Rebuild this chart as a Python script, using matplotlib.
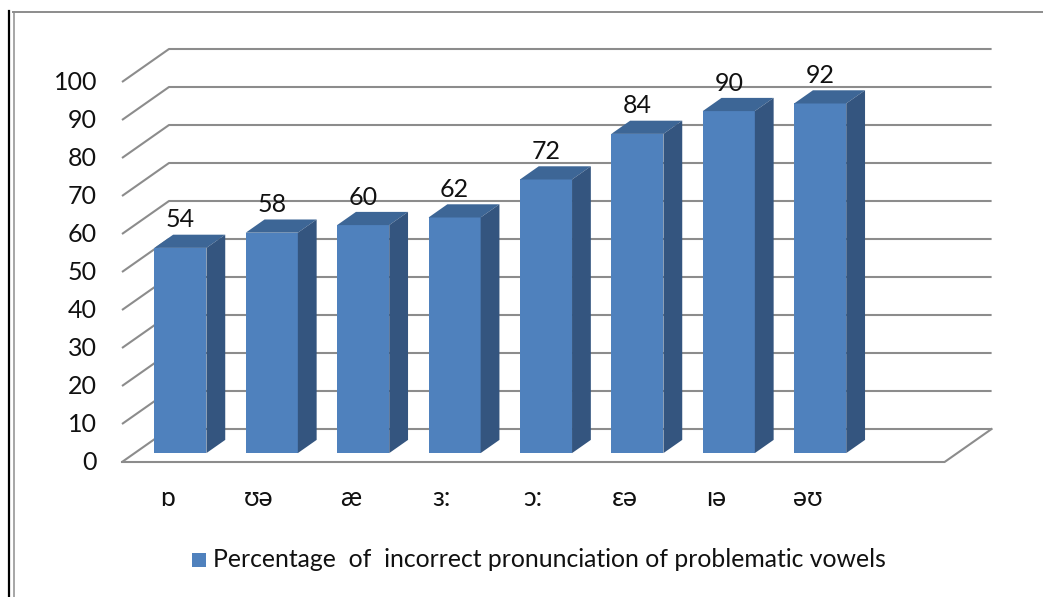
import matplotlib
matplotlib.use('Agg')
import matplotlib.pyplot as plt
from matplotlib.patches import Polygon, Rectangle
from matplotlib.lines import Line2D

# ---------------- data ----------------
categories = ['ɒ', 'ʊə', 'æ', 'ɜ:', 'ɔ:', 'ɛə', 'ɪə', 'əʊ']
values = [54, 58, 60, 62, 72, 84, 90, 92]
yticks = [0, 10, 20, 30, 40, 50, 60, 70, 80, 90, 100]
legend_label = 'Percentage  of  incorrect pronunciation of problematic vowels'

# ---------------- style ----------------
FONT = ['Lato', 'DejaVu Sans']
plt.rcParams['font.family'] = FONT
FRONT = '#4F81BD'
TOP = '#3D6696'
SIDE = '#34557F'
GRID = '#8C8C8C'

W, H = 1043, 597
fig = plt.figure(figsize=(W / 100, H / 100), dpi=100)

# pixel geometry of the pseudo-3D plot
ppx, ppy = 91.4, 3.8           # pixels per category / per unit
ax_left, ax_right, ax_top, ax_bottom = 122, 1000, 40, 462
ax = fig.add_axes([ax_left / W, 1 - ax_bottom / H,
                   (ax_right - ax_left) / W, (ax_bottom - ax_top) / H])
ax.set_xlim(0, (ax_right - ax_left) / ppx)
ax.set_ylim(0, (ax_bottom - ax_top) / ppy)
ax.axis('off')

DX, DY = 47 / ppx, 33 / ppy     # full depth offset in data units
n_slots = len(categories) + 1
f0, f1 = 0.27, 0.67             # bar depth range (fraction of depth)
bw = 0.57                       # bar width (fraction of category)

# gridlines: left wall diagonal + back wall horizontal
for v in yticks:
    ax.plot([0, DX, n_slots + DX], [v, v + DY, v + DY], color=GRID,
            lw=1.5, solid_capstyle='butt', clip_on=False, zorder=1)
    ax.text(-25 / ppx, v, str(v), ha='right', va='center', fontsize=18,
            color='#111111')
# floor front edge and right edge
ax.plot([0, n_slots, n_slots + DX], [0, 0, DY], color=GRID, lw=1.5,
        clip_on=False, zorder=1)

d = f1 - f0
for i, (cat, v) in enumerate(zip(categories, values)):
    xc = i + 0.5 + f0 * DX
    yb = f0 * DY
    ax.bar(xc, v, width=bw, bottom=yb, color=FRONT, zorder=3,
           linewidth=0)
    x0, x1 = xc - bw / 2, xc + bw / 2
    top = Polygon([(x0, yb + v), (x1, yb + v), (x1 + d * DX, yb + v + d * DY),
                   (x0 + d * DX, yb + v + d * DY)], closed=True,
                  facecolor=TOP, edgecolor='none', zorder=3)
    side = Polygon([(x1, yb), (x1, yb + v), (x1 + d * DX, yb + v + d * DY),
                    (x1 + d * DX, yb + d * DY)], closed=True,
                   facecolor=SIDE, edgecolor='none', zorder=3)
    ax.add_patch(top)
    ax.add_patch(side)
    ax.text(xc, yb + v + 28 / ppy, str(v), ha='center', va='center',
            fontsize=18, color='#111111', zorder=5)
    ax.text(i + 0.5, -44 / ppy, cat, ha='center', va='baseline',
            fontsize=19, color='#111111', family=FONT)

# legend
fig.add_artist(Rectangle((192 / W, 1 - 567 / H), 14 / W, 14 / H,
                         transform=fig.transFigure, facecolor=FRONT,
                         edgecolor='none'))
fig.text(213 / W, 1 - 567 / H, legend_label, ha='left', va='baseline',
         fontsize=17.8, color='#111111')

# frame lines
fig.add_artist(Line2D([9 / W, 9 / W], [1 - 11 / H, 0], transform=fig.transFigure,
                      color='black', lw=1.6))
fig.add_artist(Line2D([13.5 / W, 13.5 / W], [1 - 12 / H, 0],
                      transform=fig.transFigure, color='#A6A6A6', lw=1.4))
fig.add_artist(Line2D([13 / W, 1], [1 - 12 / H, 1 - 12 / H],
                      transform=fig.transFigure, color='#8C8C8C', lw=1.4))

fig.savefig('out.png', dpi=100, facecolor='white')
